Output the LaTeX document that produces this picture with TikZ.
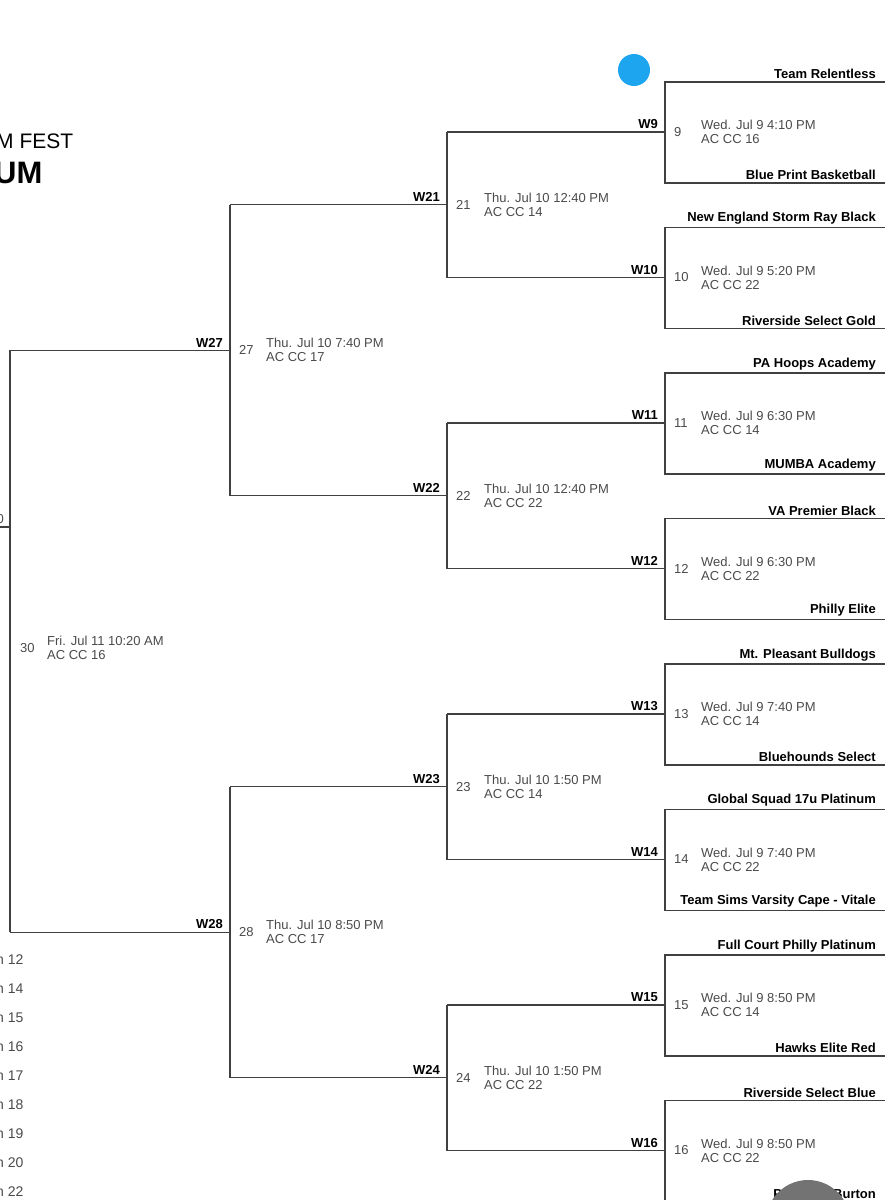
\documentclass[tikz,border=0pt]{standalone}
\usepackage{fontspec}
\setmainfont{Liberation Sans}
\usepackage{tikz}
\usetikzlibrary{calc}
\definecolor{dotblue}{HTML}{1EA5F0}
\definecolor{txtgray}{HTML}{4A4A4A}
\tikzset{
  bline/.style={draw=black!75, line width=1.3pt},
  team/.style={anchor=south east, inner sep=1pt, font=\fontsize{13}{15}\selectfont\bfseries},
  wlabel/.style={anchor=south east, inner sep=1pt, font=\fontsize{13}{15}\selectfont\bfseries},
  gnum/.style={anchor=west, inner sep=0pt, text=txtgray, font=\fontsize{13}{15}\selectfont},
  ginfo/.style={anchor=west, inner sep=0pt, align=left, text=txtgray, font=\fontsize{13}{14}\selectfont}
}
\begin{document}
\begin{tikzpicture}[x=1pt, y=-1pt]
\useasboundingbox (0,0) rectangle (885,1200);
\clip (0,0) rectangle (885,1200);

% title, cut off at the left
\node[anchor=west, inner sep=0pt, font=\fontsize{21}{24}\selectfont] (title1) at (-4,141) {M FEST};
\node[anchor=west, inner sep=0pt, font=\fontsize{31}{34}\selectfont\bfseries] (title2) at (-6,173) {UM};

% first round
\foreach \g/\day/\court/\ta/\tb [count=\i from 0] in {
  9/4:10/16/Team Relentless/Blue Print Basketball,
  10/5:20/22/New England Storm Ray Black/Riverside Select Gold,
  11/6:30/14/PA Hoops Academy/MUMBA Academy,
  12/6:30/22/VA Premier Black/Philly Elite,
  13/7:40/14/Mt. Pleasant Bulldogs/Bluehounds Select,
  14/7:40/22/Global Squad 17u Platinum/Team Sims Varsity Cape - Vitale,
  15/8:50/14/Full Court Philly Platinum/Hawks Elite Red,
  16/8:50/22/Riverside Select Blue/Pr\hspace{46pt}Burton}{
  \pgfmathsetmacro{\ytop}{82+\i*145.5}
  \coordinate (t\g) at (665,\ytop);
  \coordinate (b\g) at (665,\ytop+101);
  \coordinate (m\g) at (665,\ytop+50);
  \draw[bline] (885,\ytop) -- (t\g) -- (b\g) -- (885,\ytop+101);
  \node[team] (ta\g) at (877,\ytop-2) {\ta};
  \node[team] (tb\g) at (877,\ytop+99) {\tb};
  \node[gnum] (n\g) at ([xshift=9pt]m\g) {\g};
  \node[ginfo] (d\g) at ([xshift=36pt]m\g) {Wed. Jul 9 \day\ PM\\AC CC \court};
  \node[wlabel] (w\g) at ([xshift=-6pt,yshift=2pt]m\g) {W\g};
}

% second round
\foreach \g/\a/\b/\tm/\court in {21/9/10/12:40/14, 22/11/12/12:40/22, 23/13/14/1:50/14, 24/15/16/1:50/22}{
  \coordinate (ua\g) at (447,0 |- m\a);
  \coordinate (ub\g) at (447,0 |- m\b);
  \draw[bline] (ua\g) -- (m\a);
  \draw[bline] (ub\g) -- (m\b);
  \draw[bline] (ua\g) -- (ub\g);
  \coordinate (m\g) at ($(ua\g)!0.5!(ub\g)$);
  \node[gnum] (n\g) at ([xshift=9pt]m\g) {\g};
  \node[ginfo] (d\g) at ([xshift=37pt]m\g) {Thu. Jul 10 \tm\ PM\\AC CC \court};
  \node[wlabel] (w\g) at ([xshift=-6pt,yshift=2pt]m\g) {W\g};
}

% third round
\foreach \g/\a/\b/\tm in {27/21/22/7:40, 28/23/24/8:50}{
  \coordinate (ua\g) at (230,0 |- m\a);
  \coordinate (ub\g) at (230,0 |- m\b);
  \draw[bline] (ua\g) -- (m\a);
  \draw[bline] (ub\g) -- (m\b);
  \draw[bline] (ua\g) -- (ub\g);
  \coordinate (m\g) at ($(ua\g)!0.5!(ub\g)$);
  \node[gnum] (n\g) at ([xshift=9pt]m\g) {\g};
  \node[ginfo] (d\g) at ([xshift=36pt]m\g) {Thu. Jul 10 \tm\ PM\\AC CC 17};
  \node[wlabel] (w\g) at ([xshift=-6pt,yshift=2pt]m\g) {W\g};
}

% final
\coordinate (ua30) at (10,0 |- m27);
\coordinate (ub30) at (10,0 |- m28);
\draw[bline] (ua30) -- (m27);
\draw[bline] (ub30) -- (m28);
\draw[bline] (ua30) -- (ub30);
\coordinate (m30) at ($(ua30)!0.5!(ub30)$);
\coordinate (stub) at (10,527);
\draw[bline] (stub) -- (-2,527);
\node[anchor=south east, inner sep=1pt, text=txtgray, font=\fontsize{13}{15}\selectfont] (n29) at (5,525) {0};
\node[gnum] (n30) at ([xshift=10pt,yshift=-7pt]m30) {30};
\node[ginfo] (d30) at ([xshift=37pt,yshift=-7pt]m30) {Fri. Jul 11 10:20 AM\\AC CC 16};

% court list, cut off at the left
\foreach \c [count=\k from 0] in {12,14,15,16,17,18,19,20,22}{
  \node[anchor=west, inner sep=0pt, text=txtgray, font=\fontsize{14}{16}\selectfont] (c\c) at (-4,960+\k*29) {n \c};
}

% dots on top
\fill[dotblue] (634,70) circle (16);
\fill[black!55] (808,1222) circle (42);
\end{tikzpicture}
\end{document}
